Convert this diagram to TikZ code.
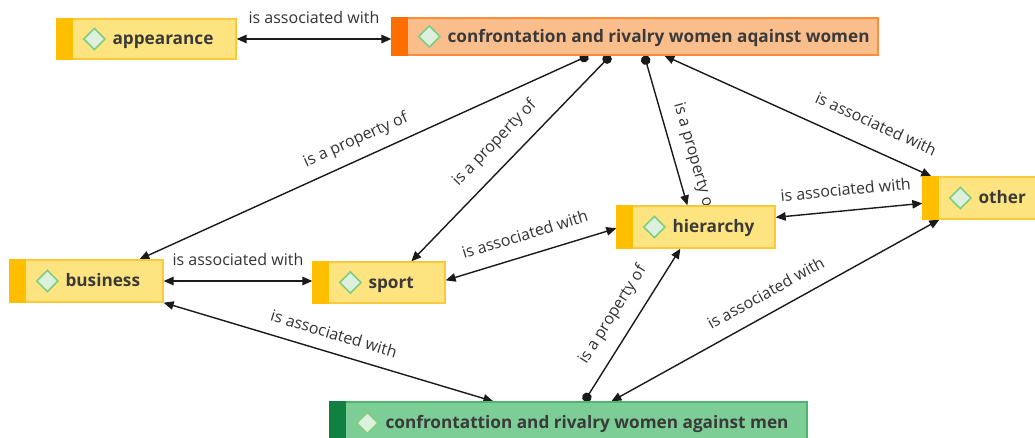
\documentclass[tikz,border=0pt]{standalone}
\usepackage{fontspec}
\setmainfont{Open Sans}
\usetikzlibrary{arrows.meta,fit,calc,shapes.geometric}
\pgfdeclarelayer{bg}
\pgfsetlayers{bg,main}
\definecolor{ylfill}{HTML}{FDE480}
\definecolor{ylborder}{HTML}{FFC83A}
\definecolor{ylbar}{HTML}{FFBE00}
\definecolor{orfill}{HTML}{FABE8C}
\definecolor{orborder}{HTML}{FF8C3C}
\definecolor{orbar}{HTML}{FF6E00}
\definecolor{grfill}{HTML}{7DCE96}
\definecolor{grborder}{HTML}{50B46E}
\definecolor{grbar}{HTML}{108040}
\definecolor{linec}{HTML}{1A1A1A}
\definecolor{labelc}{HTML}{333333}
\definecolor{textc}{HTML}{3A3A3A}
\definecolor{iconfill}{HTML}{DDF0DD}
\definecolor{iconborder}{HTML}{80CC80}
\newcommand{\cnode}[7]{%
  \node[fit={(#2,#3)(#4,#5)}, inner sep=0pt, draw=#6border, fill=#6fill, line width=1.3pt] (#1) {};
  \fill[#6bar] (#1.north west) rectangle ($(#1.south west)+(17,0)$);
  \node[icon] (#1-i) at ($(#1.west)+(38,0)$) {};
  \node[ntext, anchor=base west] (#1-t) at ($(#1.west)+(56,5.5)$) {#7};
}
\begin{document}
\begin{tikzpicture}[x=1pt,y=-1pt,
  >={Triangle[length=10pt,width=8.5pt]},
  icon/.style={diamond, draw=iconborder, fill=iconfill, line width=1.6pt, minimum width=22pt, minimum height=22pt, inner sep=0pt, shape aspect=1},
  ntext/.style={font=\fontsize{17.2}{20}\selectfont\bfseries, text=textc, inner sep=0pt},
  lbl/.style={font=\fontsize{16}{19}\selectfont, text=labelc, inner sep=0pt, text height=11.5pt, text depth=3.5pt, sloped},
  assoc/.style={draw=linec, line width=1.4pt, <->},
  prop/.style={draw=linec, line width=1.4pt, {Circle[length=9.5pt]}->}
]
\useasboundingbox (0,0) rectangle (1035,437);
\clip (0,0) rectangle (1035,437);

\cnode{app}{57}{19}{236}{59}{yl}{appearance}
\cnode{women}{392}{18}{878}{55}{or}{confrontation and rivalry women aqainst women}
\cnode{business}{10}{260}{163}{302}{yl}{business}
\cnode{sport}{313}{262}{445}{303}{yl}{sport}
\cnode{hierarchy}{617}{206}{775}{248}{yl}{hierarchy}
\cnode{other}{923}{177}{1048}{219}{yl}{other}
\cnode{bottom}{330}{402}{807}{444}{gr}{confrontattion and rivalry women against men}

\begin{pgfonlayer}{bg}
\fill[white] (0,0) rectangle (1035,437);
\draw[assoc] (app.east) -- (app.east -| women.west)
  node[lbl, midway, above=11pt] {is associated with};
\draw[prop] ($(women.south west)+(197,0)$) -- ($(business.north west)+(130,0)$)
  node[lbl, pos=0.5, above=10.5pt] {is a property of};
\draw[prop] ($(women.south west)+(219,0)$) -- ($(sport.north west)+(99,0)$)
  node[lbl, pos=0.5, above=14pt] {is a property of};
\draw[prop] ($(women.south west)+(253,0)$) -- ($(hierarchy.north west)+(71,0)$)
  node[lbl, pos=0.715, above=11pt] {is a property of};
\draw[assoc] ($(women.south west)+(273,0)$) -- ($(other.north west)+(9,0)$)
  node[lbl, pos=0.754, above=15pt] {is associated with};
\draw[assoc] ($(hierarchy.north east)+(0,12)$) -- ($(other.north west)+(0,27)$)
  node[lbl, pos=0.49, above=11pt] {is associated with};
\draw[assoc] ($(sport.north east)+(0,19)$) -- ($(hierarchy.north west)+(0,23)$)
  node[lbl, pos=0.5, above=11pt] {is associated with};
\draw[assoc] (business.east) -- (business.east -| sport.west)
  node[lbl, midway, above=11pt] {is associated with};
\draw[assoc] (business.south east) -- ($(bottom.north west)+(164,0)$)
  node[lbl, midway, above=9pt] {is associated with};
\draw[prop] ($(bottom.north west)+(255,0)$) -- ($(hierarchy.south west)+(64,0)$)
  node[lbl, pos=0.49, above=13.5pt] {is a property of};
\draw[assoc] ($(bottom.north west)+(282,0)$) -- ($(other.south west)+(17,0)$)
  node[lbl, midway, above=10pt] {is associated with};
\end{pgfonlayer}
\end{tikzpicture}
\end{document}
